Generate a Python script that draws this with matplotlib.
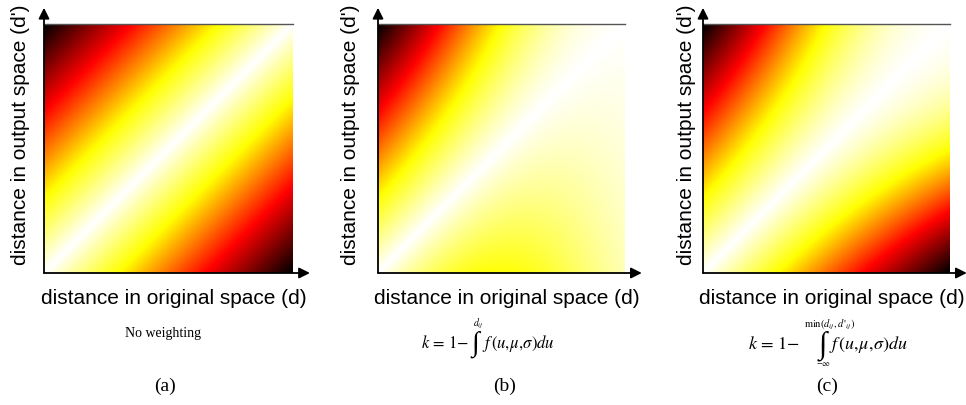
import numpy as np
import matplotlib
matplotlib.use("Agg")
import matplotlib.pyplot as plt
from matplotlib.colors import LinearSegmentedColormap
from math import erf, sqrt

# Weighting parameters (normalised distance units)
grid_size = 300
weight_mu = 0.55
weight_sigma = 0.33

panel_tags = ["(a)", "(b)", "(c)"]
x_label = "distance in original space (d)"
y_label = "distance in output space (d')"

# Heat colour scale: white (no stress) -> yellow -> red -> black (max stress)
stress_nodes = [0.0, 0.3, 0.65, 1.0]
stress_colours = ["#ffffff", "#ffff00", "#ff0000", "#000000"]
cmap = LinearSegmentedColormap.from_list("stress", list(zip(stress_nodes, stress_colours)))

d = np.linspace(0, 1, grid_size)
D, Dp = np.meshgrid(d, d)  # D: original distance (x), Dp: output distance (y)
gap = np.abs(D - Dp)

phi = np.vectorize(lambda z: 0.5 * (1 + erf(z / sqrt(2))))


def k_weight(u):
    return 1 - phi((u - weight_mu) / weight_sigma)


field_a = gap
field_b = k_weight(D) * gap
field_b = field_b / field_b.max()
field_c = k_weight(np.minimum(D, Dp)) * gap
field_c = field_c / field_c.max()
fields = [field_a, field_b, field_c]

W, H = 966, 405
plt.rcParams["mathtext.fontset"] = "stix"
fig = plt.figure(figsize=(W / 100, H / 100), dpi=100)


def fx(px):
    return px / W


def fy(py):
    return 1 - py / H


# Axes boxes in pixels: left, top, width, height
boxes = [(44, 24, 249, 249), (378, 24, 247, 249), (703, 24, 247, 249)]
ylabel_centre_x = [21, 351, 686]

for i, (field, box) in enumerate(zip(fields, boxes)):
    l, t, w, h = box
    ax = fig.add_axes([fx(l), fy(t + h), w / W, h / H])
    ax.imshow(field, origin="lower", extent=(0, 1, 0, 1), cmap=cmap,
              vmin=0, vmax=1, aspect="auto", interpolation="bilinear")
    ax.set_xlim(0, 1)
    ax.set_ylim(0, 1)
    ax.set_xticks([])
    ax.set_yticks([])
    for s in ax.spines.values():
        s.set_visible(False)
    # top frame line
    ax.plot([0, 1], [1, 1], color="#555555", lw=1.0, clip_on=False)
    # axis arrows
    arrow = dict(arrowstyle="-|>", color="black", lw=1.3, mutation_scale=16,
                 shrinkA=0, shrinkB=0)
    ax.annotate("", xy=(0, 1.065), xytext=(0, 0), xycoords="axes fraction",
                arrowprops=arrow, annotation_clip=False)
    ax.annotate("", xy=(1.068, 0), xytext=(0, 0), xycoords="axes fraction",
                arrowprops=arrow, annotation_clip=False)

    fig.text(fx(ylabel_centre_x[i]), fy(135), y_label, rotation=90,
             ha="center", va="center", fontsize=15, family="Liberation Sans")
    fig.text(fx(l + w * 0.52), fy(298), x_label, ha="center", va="center",
             fontsize=15, family="Liberation Sans")

serif = "Liberation Serif"

fig.text(fx(163), fy(334), "No weighting", ha="center", va="center",
         fontsize=10, family=serif)


def weight_formula(lhs_right, int_x, int_y, rhs_left, base_y, size, upper,
                   upper_xy, lower=None, lower_xy=None, limit_size=7):
    fig.text(fx(lhs_right), fy(base_y), r"$k\,{=}\,1{-}$", ha="right",
             va="baseline", fontsize=size)
    fig.text(fx(int_x), fy(int_y), "\u222b", ha="center", va="center",
             fontsize=size * 1.7, family=serif)
    fig.text(fx(rhs_left), fy(base_y), r"$f\,(u,\!\mu,\!\sigma)du$", ha="left",
             va="baseline", fontsize=size)
    fig.text(fx(upper_xy[0]), fy(upper_xy[1]), upper, ha="center", va="center",
             fontsize=limit_size)
    if lower is not None:
        fig.text(fx(lower_xy[0]), fy(lower_xy[1]), lower, ha="center",
                 va="center", fontsize=limit_size - 1.5)


weight_formula(469, 475, 344, 482, 348, 12, r"$d_{ij}$", upper_xy=(478, 324))
weight_formula(800, 823, 346, 829, 349, 13, r"$\mathrm{min}(d_{ij},d\,'_{ij})$",
               upper_xy=(830, 325), lower=r"$-\infty$", lower_xy=(823, 364),
               limit_size=7.5)

for tag, cx in zip(panel_tags, [165, 505, 827]):
    fig.text(fx(cx), fy(386), tag, ha="center", va="center",
             fontsize=14, family=serif)

fig.savefig("out.png", dpi=100)
